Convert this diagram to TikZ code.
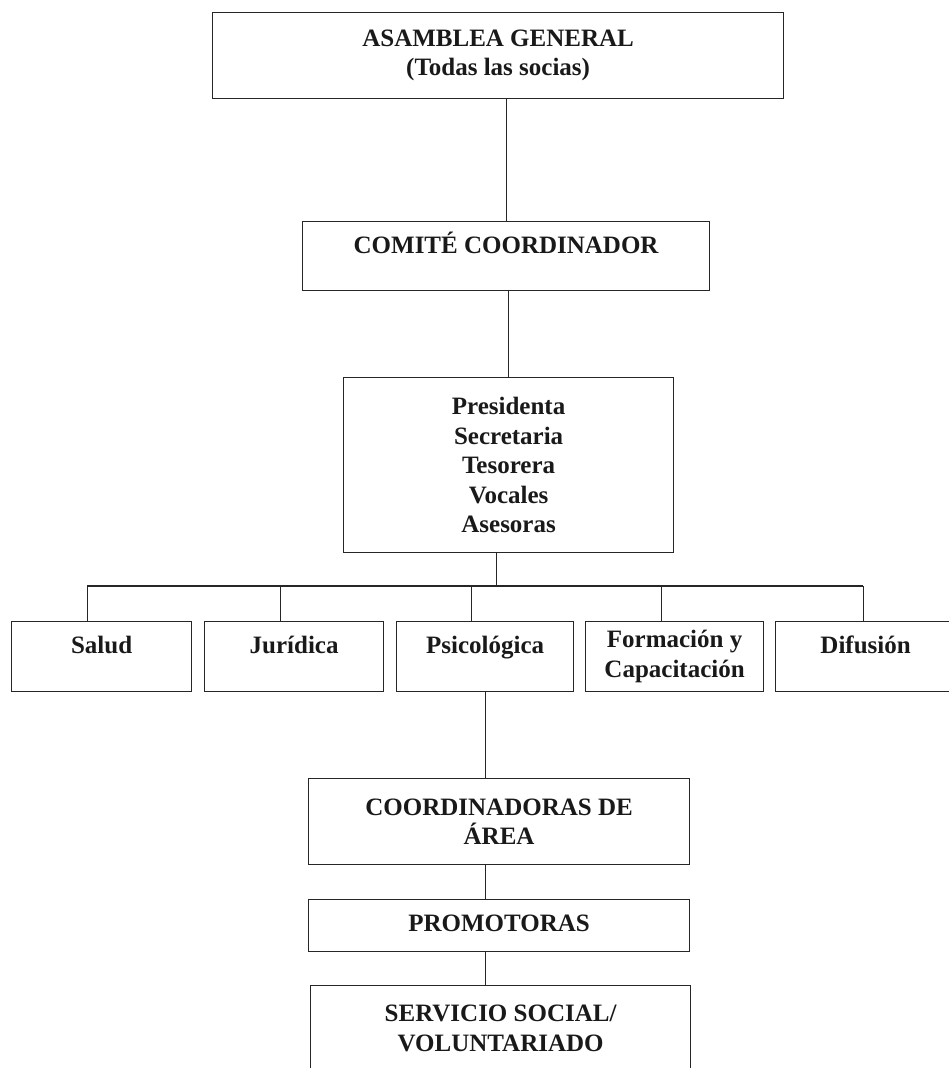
\documentclass[tikz,border=0pt]{standalone}
\usepackage{fontspec}
\setmainfont{Liberation Serif}

\begin{document}
\begin{tikzpicture}[x=1pt, y=-1pt, line width=1.2pt, draw=black!85,
    box/.style={draw, inner sep=0pt, align=center, anchor=north west, text=black!90,
        font=\fontsize{25}{29.5}\selectfont\bfseries},
    single/.style={text height=32pt, text depth=#1}]
            \useasboundingbox (0,0) rectangle (948,1068);
            \node[box, minimum width=571pt, minimum height=86pt] (asamblea) at (212,12) {ASAMBLEA GENERAL\\(Todas las socias)};
            \node[box, single=37pt, minimum width=407pt] (comite) at (302,221) {COMITÉ COORDINADOR};
            \node[box, minimum width=330pt, minimum height=175pt] (presidenta) at (343,377) {Presidenta\\Secretaria\\Tesorera\\Vocales\\Asesoras};
            \node[box, single=38pt, minimum width=180pt] (salud) at (11,621) {Salud};
            \node[box, single=38pt, minimum width=179pt] (juridica) at (204,621) {Jurídica};
            \node[box, single=38pt, minimum width=177pt] (psico) at (396,621) {Psicológica};
            \node[box, minimum width=178pt, minimum height=70pt] (formacion) at (585,621) {Formación y\\Capacitación};
            \node[box, single=38pt, minimum width=180pt] (difusion) at (775,621) {Difusión};
            \node[box, minimum width=381pt, minimum height=86pt] (coord) at (308,778) {COORDINADORAS DE\\ÁREA};
            \node[box, single=20pt, minimum width=381pt] (promotoras) at (308,899) {PROMOTORAS};
            \node[box, minimum width=380pt, minimum height=86pt] (servicio) at (310,985) {SERVICIO SOCIAL/\\VOLUNTARIADO};
            \draw (comite.north) -- (comite.north |- asamblea.south);
            \draw (presidenta.north) -- (presidenta.north |- comite.south);
            \coordinate (busL) at (87,586);
            \coordinate (busR) at (863,586);
            \coordinate (exit) at ([xshift=-12pt]presidenta.south);
            \draw (exit) -- (exit |- busL);
            \draw (busL) -- (busR);
            \foreach \n/\dx in {salud/-14, juridica/-14, psico/-14, formacion/-13, difusion/-2}{
                \coordinate (drop) at ([xshift=\dx pt]\n.north);
                \draw (drop) -- (drop |- busL);
            }
            \draw (psico.south) -- (psico.south |- coord.north);
            \draw (psico.south |- coord.south) -- (psico.south |- promotoras.north);
            \draw (psico.south |- promotoras.south) -- (psico.south |- servicio.north);
        \end{tikzpicture}
\end{document}
